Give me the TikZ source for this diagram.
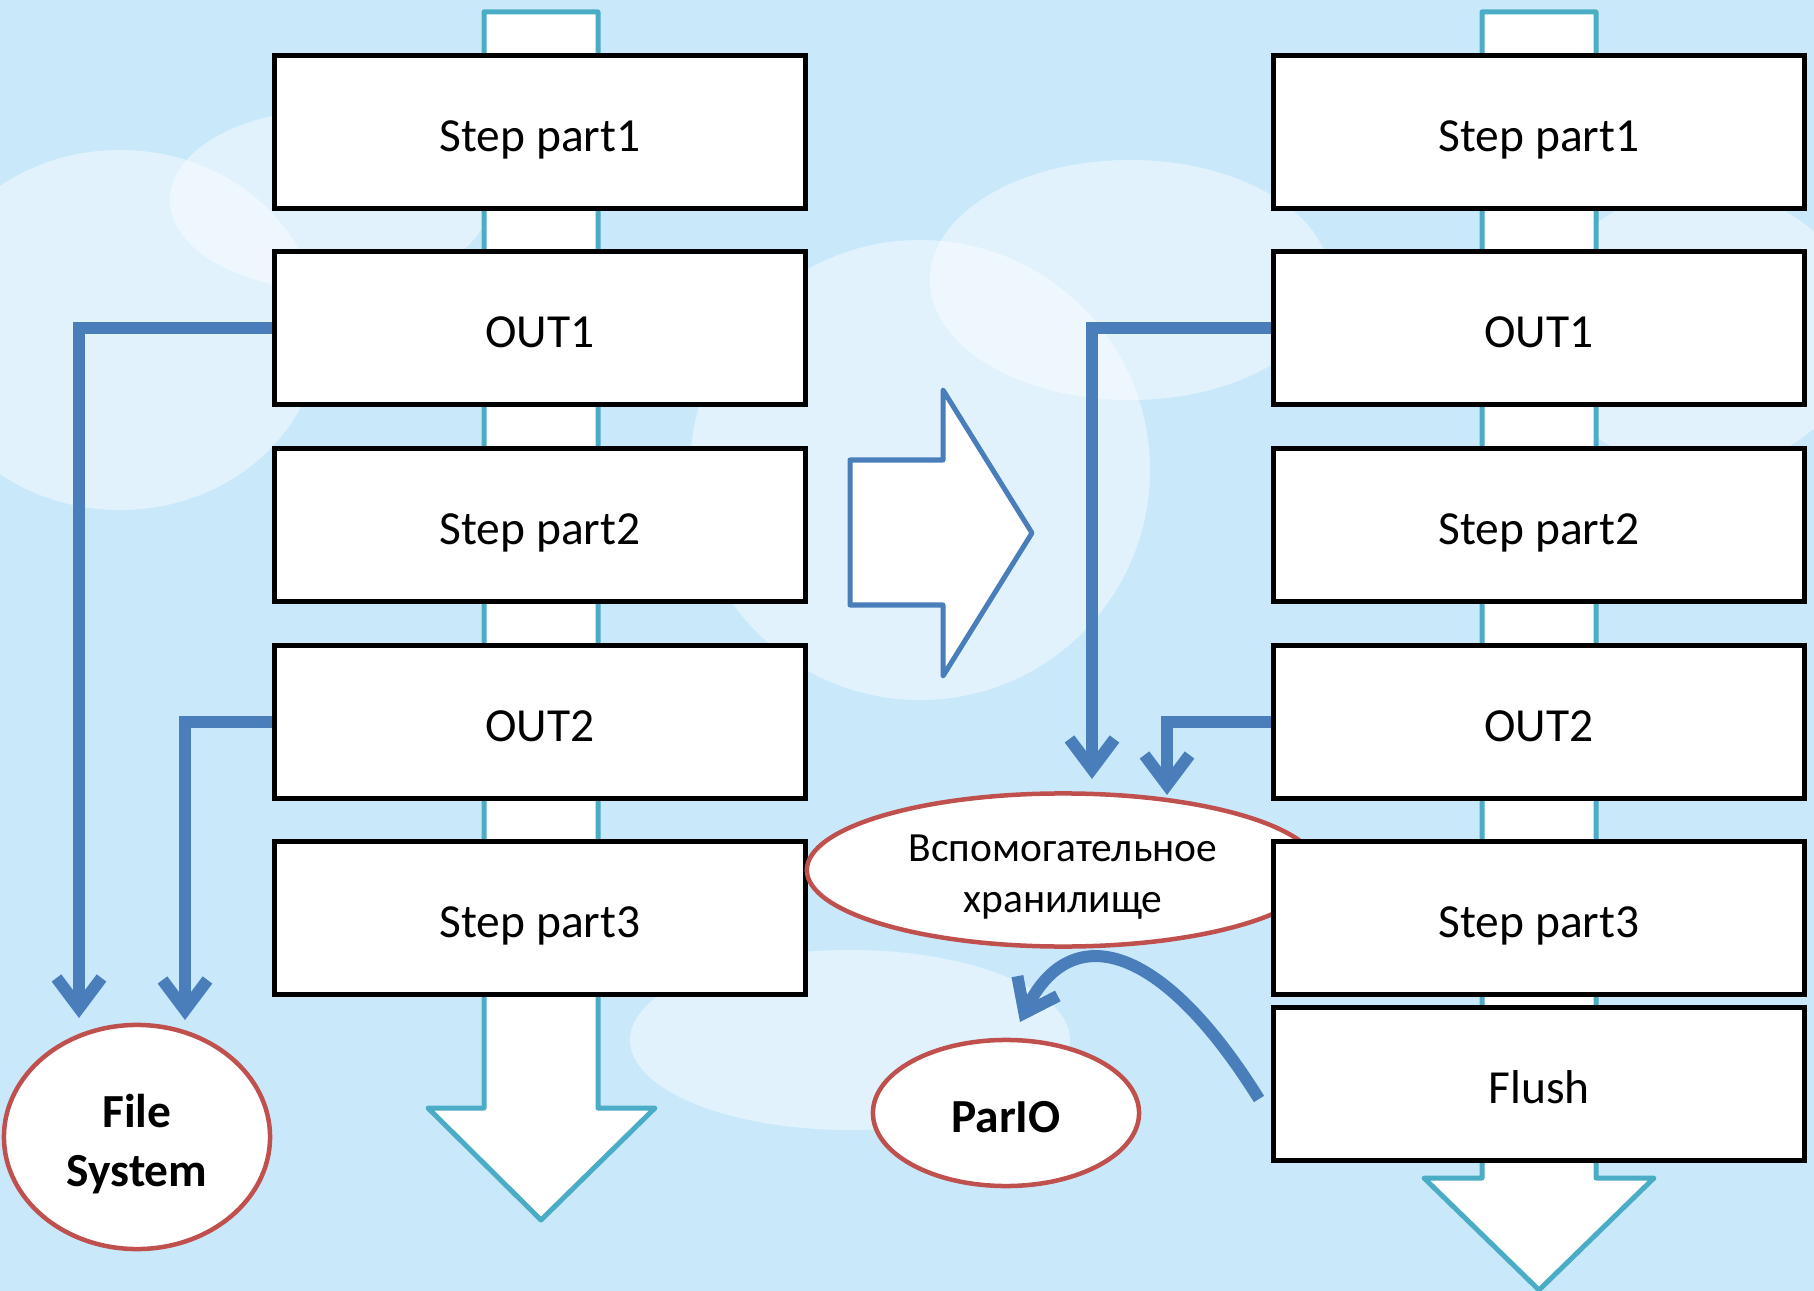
\documentclass[tikz,border=0pt]{standalone}
\usepackage{fontspec}
\setmainfont{Carlito}
\usetikzlibrary{arrows.meta,shapes.geometric}
\definecolor{conblue}{RGB}{74,126,187}
\definecolor{flowteal}{RGB}{75,172,198}
\definecolor{ovalred}{RGB}{192,80,77}
\definecolor{sky}{RGB}{201,233,251}
\newcommand\dropline[1]{\raisebox{-0.07cm}[\height][\depth]{#1}}
\tikzset{
 stepbox/.style={draw=black,line width=0.05cm,fill=white,minimum width=5.31cm,minimum height=1.52cm,text height=0.48cm,text depth=0.1cm,font=\fontsize{13.5}{16}\selectfont},
 oval/.style={ellipse,draw=ovalred,line width=0.045cm,fill=white,inner sep=0pt,align=center},
 feed/.style={draw=conblue,line width=0.12cm,-{Straight Barb[length=0.3cm,width=0.45cm]}},
 flow/.style={draw=flowteal,line width=0.05cm,fill=white,line join=round},
 cloud/.style={fill=white,opacity=0.45},
}
\begin{document}
\begin{tikzpicture}[x=0.01cm,y=-0.01cm]
\useasboundingbox (0,0) rectangle (1814,1291);
\fill[sky] (0,0) rectangle (1814,1291);
\fill[cloud] (120,330) ellipse (200 and 180);
\fill[cloud] (330,200) ellipse (160 and 90);
\fill[cloud] (920,470) ellipse (230 and 230);
\fill[cloud] (1130,280) ellipse (200 and 120);
\fill[cloud] (850,1040) ellipse (220 and 90);
\fill[cloud] (1700,330) ellipse (160 and 140);

\draw[flow] (484,12) -- (598,12) -- (598,1108) -- (655,1108) -- (541,1220) -- (428,1108) -- (484,1108) -- cycle;
\draw[flow] (1482,12) -- (1596,12) -- (1596,1178) -- (1654,1178) -- (1539,1290) -- (1424,1178) -- (1482,1178) -- cycle;

\node[stepbox] (s1L) at (540,132) {Step part1};
\node[stepbox] (o1L) at (540,328) {OUT1};
\node[stepbox] (s2L) at (540,525) {Step part2};
\node[stepbox] (o2L) at (540,722) {OUT2};
\node[stepbox] (s3L) at (540,918) {Step part3};

\node[oval,minimum width=2.66cm,minimum height=2.24cm,font=\fontsize{13.5}{16.8}\selectfont\bfseries] (fs) at (137,1137) {\dropline{File}\\\dropline{System}};
\coordinate (fsin1) at (79,1018);
\coordinate (fsin2) at (185,1020);
\draw[feed] (o1L.west) -| (fsin1);
\draw[feed] (o2L.west) -| (fsin2);

\draw[draw=conblue,line width=0.05cm,fill=white,line join=round] (850,460) -- (943,460) -- (943,390) -- (1032,533) -- (943,676) -- (943,605) -- (850,605) -- cycle;

\node[oval,minimum width=5.12cm,minimum height=1.53cm,font=\fontsize{11.8}{14.7}\selectfont] (store) at (1063,870) {\dropline{Вспомогательное}\\\dropline{хранилище}};

\node[stepbox] (s1R) at (1539,132) {Step part1};
\node[stepbox] (o1R) at (1539,328) {OUT1};
\node[stepbox] (s2R) at (1539,525) {Step part2};
\node[stepbox] (o2R) at (1539,722) {OUT2};
\node[stepbox] (s3R) at (1539,918) {Step part3};
\node[stepbox] (flR) at (1539,1084) {Flush};

\coordinate (stin1) at (1092,779);
\coordinate (stin2) at (1167,795);
\draw[feed] (o1R.west) -| (stin1);
\draw[feed] (o2R.west) -| (stin2);

\node[oval,minimum width=2.66cm,minimum height=1.46cm,font=\fontsize{13.5}{16}\selectfont\bfseries] (pario) at (1006,1113) {\raisebox{-0.04cm}[\height][\depth]{ParIO}};
\coordinate (flout) at (1259,1099);
\coordinate (pin) at (1020,1022);
\draw[feed] (flout) .. controls (1160,940) and (1070,920) .. (pin);
\end{tikzpicture}
\end{document}
